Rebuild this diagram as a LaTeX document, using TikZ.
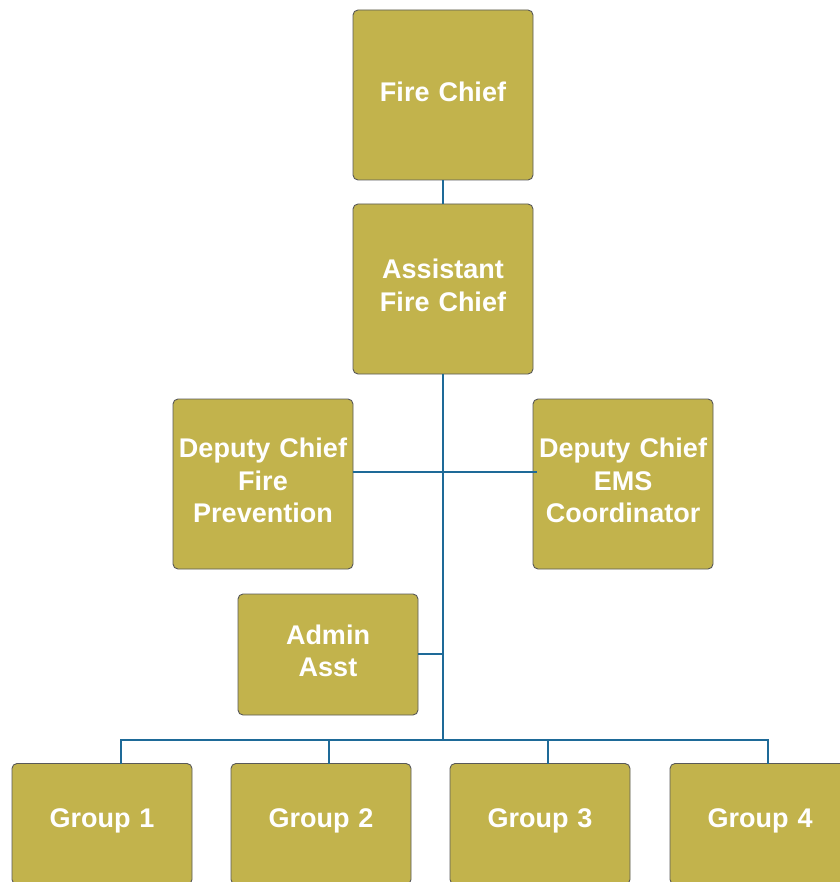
\documentclass[tikz,border=0pt]{standalone}
\usepackage{fontspec}
\setmainfont{Liberation Sans}
% extra space under the text lifts it a little inside each box
\newcommand\boxpad{\par\vspace*{7pt}}
\begin{document}
\begin{tikzpicture}[x=1pt,y=-1pt,
  orgbox/.style={draw=black!65, line width=0.9pt, fill=boxgold, rounded corners=5pt,
    minimum width=180pt, text width=178pt, align=center, inner sep=0pt,
    font=\fontsize{27}{32.5}\selectfont\bfseries, text=white,
    execute at end node=\boxpad},
  tallbox/.style={orgbox, minimum height=170pt},
  shortbox/.style={orgbox, minimum height=121pt},
  link/.style={draw=linkblue, line width=1.3pt}]
\definecolor{boxgold}{HTML}{C2B34C}
\definecolor{linkblue}{HTML}{1E6A98}
\useasboundingbox (0,0) rectangle (839,882);

% boxes
\node[tallbox] (chief) at (443,95) {Fire Chief};
\node[tallbox] (asst) at (443,289) {Assistant\\Fire Chief};
\node[tallbox] (dcfp) at (263,484) {Deputy Chief\\Fire\\Prevention};
\node[tallbox] (dems) at (623,484) {Deputy Chief\\EMS\\Coordinator};
\node[shortbox] (admin) at (328,654.5) {Admin\\Asst};
\node[shortbox] (g1) at (102,824) {Group 1};
\node[shortbox] (g2) at (321,824) {Group 2};
\node[shortbox] (g3) at (540,824) {Group 3};
\node[shortbox] (g4) at (760,824) {Group 4};

% junction points
\coordinate (bus) at (443,740);
\coordinate (d1) at (121,764);
\coordinate (d2) at (329,764);
\coordinate (d3) at (548,764);
\coordinate (d4) at (768,764);
\coordinate (dl) at (353,472);
\coordinate (dr) at (537,472);
\coordinate (al) at (418,654);

% connectors
\draw[link] (chief.south) -- (asst.north);
\draw[link] (asst.south) -- (bus);
\draw[link] (dl) -- (dr);
\draw[link] (al) -- (al -| bus);
\draw[link] (d1) -- (d1 |- bus) -- (d4 |- bus) -- (d4);
\draw[link] (d2) -- (d2 |- bus);
\draw[link] (d3) -- (d3 |- bus);
\end{tikzpicture}
\end{document}
